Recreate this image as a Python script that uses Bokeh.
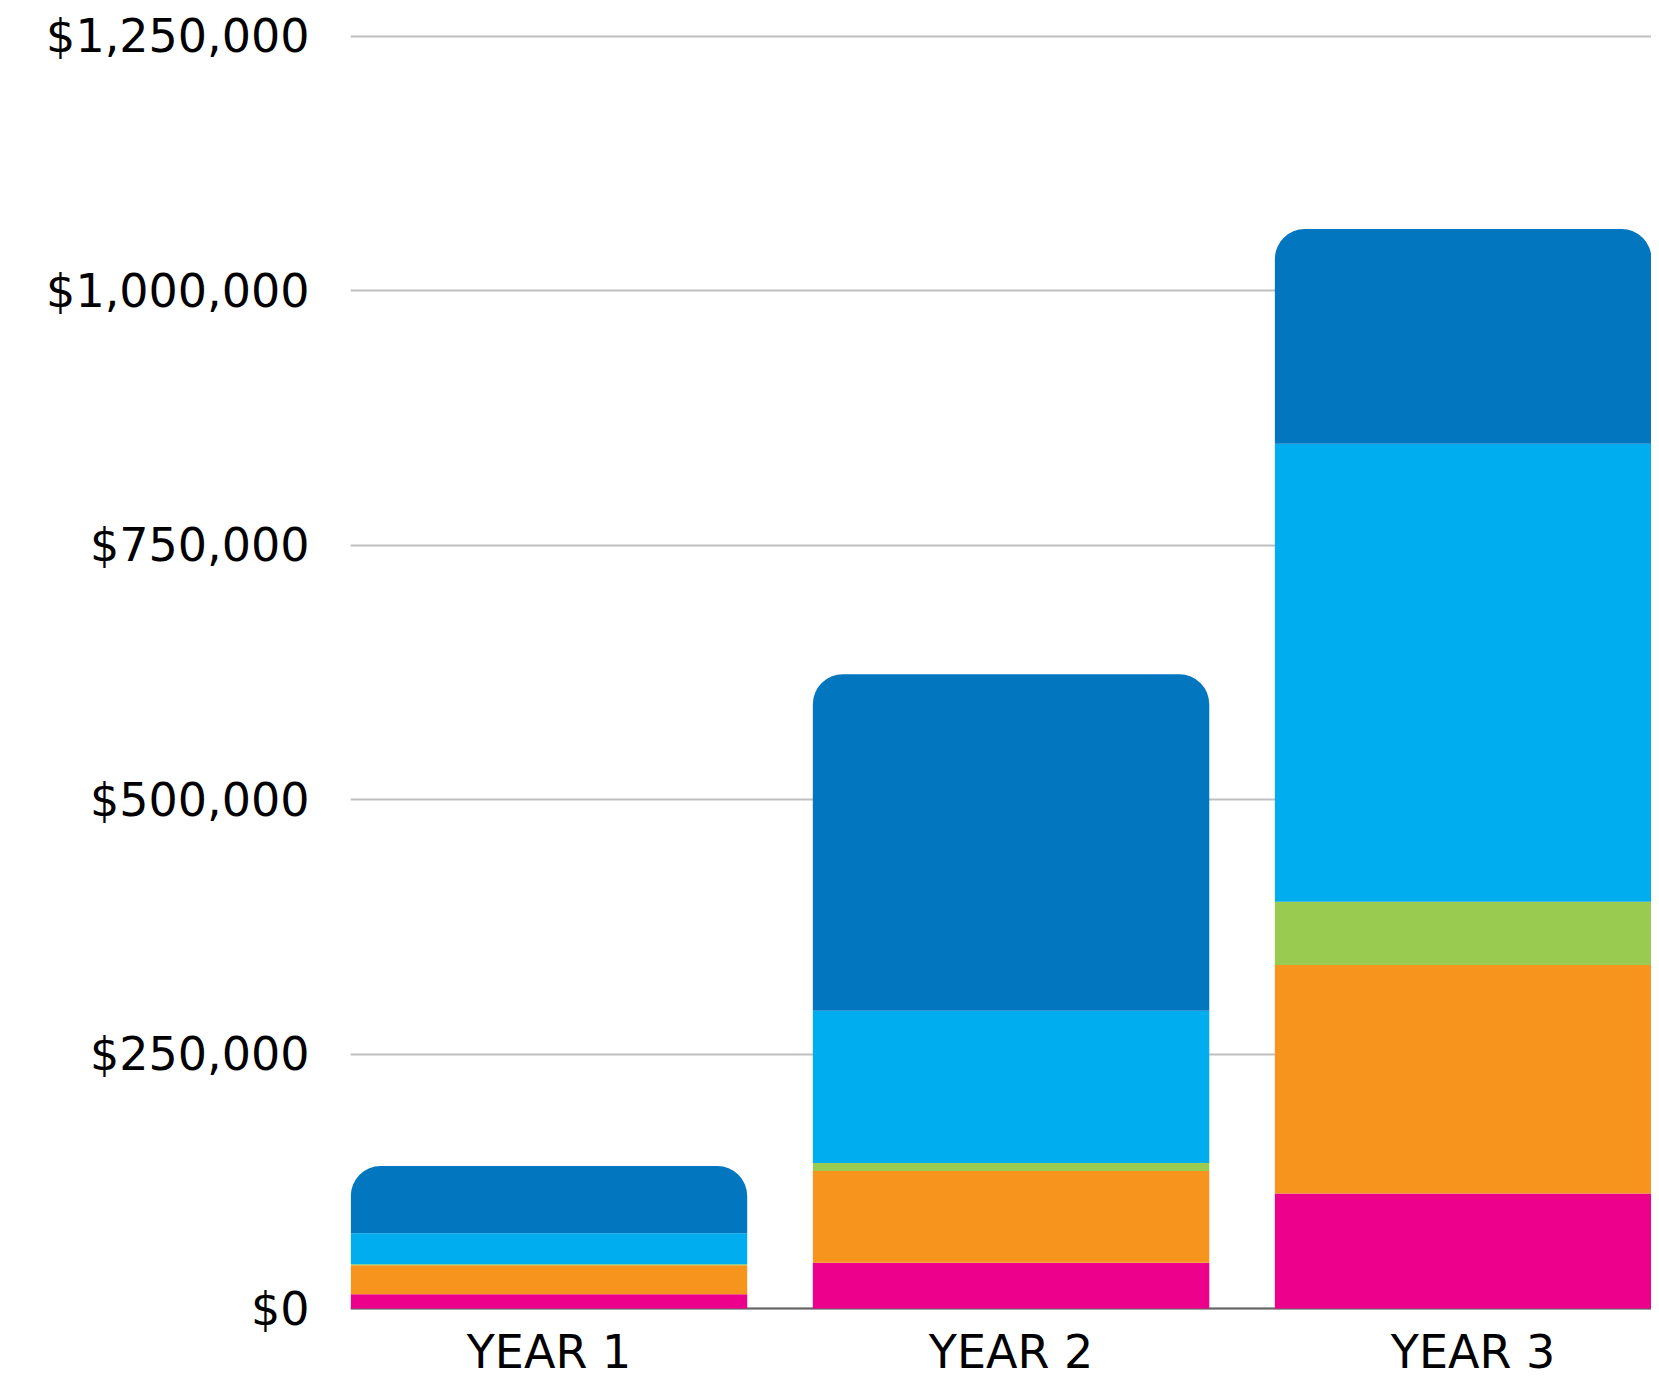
import numpy as np
from bokeh.plotting import figure
from bokeh.models import FixedTicker, NumeralTickFormatter, Span, Range1d
from bokeh.core.properties import value
from bokeh.embed import file_html
from bokeh.resources import INLINE

# ---- data ----
categories = ["YEAR 1", "YEAR 2", "YEAR 3"]
pink_values = [14000, 45000, 113000]
orange_values = [28500, 90000, 224500]
green_values = [1000, 8000, 62000]
lightblue_values = [30500, 149500, 450000]
darkblue_values = [66000, 330500, 211000]
y_ticks = [0, 250000, 500000, 750000, 1000000, 1250000]

series = [pink_values, orange_values, green_values, lightblue_values, darkblue_values]
colors = ["#EC008C", "#F7941E", "#98CB4F", "#00AEEF", "#0277BF"]

x = np.arange(len(categories))
FONT = "DejaVu Sans"

W, H = 1651, 1379
TOP = 33            # frame top (px)
ZERO_PX = 1308      # pixel row of $0
MAX_PX = 35.5       # pixel row of $1,250,000
dpp = 1250000 / (ZERO_PX - MAX_PX)   # dollars per pixel
y_start = -(H - ZERO_PX) * dpp
y_end = 1250000 + (MAX_PX - TOP) * dpp

p = figure(width=W, height=H, output_backend="svg", toolbar_location=None,
           x_range=Range1d(-0.4296, 2.3861), y_range=Range1d(y_start, y_end),
           min_border_left=350, min_border_top=TOP, min_border_bottom=0, min_border_right=0)
p.outline_line_color = None
p.background_fill_color = "white"
p.border_fill_color = "white"

# baseline under bars
p.add_layout(Span(location=0, dimension="width", line_color="#666666", line_width=2, level="underlay"))

bottom = np.zeros(len(categories))
for i, (vals, col) in enumerate(zip(series, colors)):
    vals = np.array(vals, dtype=float)
    top = bottom + vals
    kw = {}
    if i == len(series) - 1:
        kw["border_radius"] = (30, 30, 0, 0)
    p.vbar(x=x, bottom=bottom, top=top, width=0.858, fill_color=col, line_color=None, **kw)
    bottom = top

# category labels under the bars
p.text(x=x, y=[-43 * dpp] * len(categories), text=categories,
       text_font=value(FONT), text_font_size="46px", text_color="#000000",
       text_align="center", text_baseline="middle")

# y axis
p.yaxis.ticker = FixedTicker(ticks=y_ticks)
p.yaxis.formatter = NumeralTickFormatter(format="$0,0")
p.yaxis.axis_line_color = None
p.yaxis.major_tick_line_color = None
p.yaxis.minor_tick_line_color = None
p.yaxis.major_label_text_font = FONT
p.yaxis.major_label_text_font_size = "46px"
p.yaxis.major_label_text_color = "#000000"
p.yaxis.major_label_standoff = 35

# x axis hidden (labels drawn above)
p.xaxis.visible = False

# grid
p.xgrid.grid_line_color = None
p.ygrid.ticker = FixedTicker(ticks=y_ticks)
p.ygrid.grid_line_color = "#BFBFBF"
p.ygrid.grid_line_width = 2

open("out.html", "w").write(file_html(p, INLINE))
